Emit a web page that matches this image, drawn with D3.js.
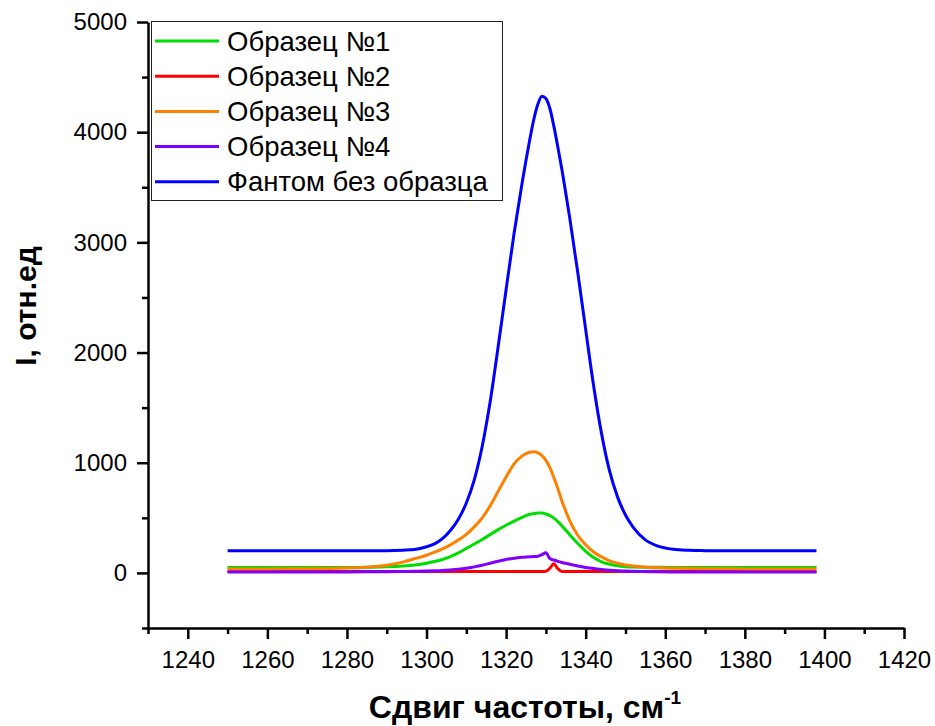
<!DOCTYPE html>
<html>
<head>
<meta charset="utf-8">
<script src="https://d3js.org/d3.v7.min.js"></script>
<style>
	body { margin: 0; background: #fff; }
	text { font-family: "Liberation Sans", Arial, sans-serif; fill: #000; }
</style>
</head>
<body>
<script>
// raman shift, cm-1
var shifts = [1250, 1260, 1270, 1280, 1285, 1290, 1294, 1297, 1300, 1302,
	1304, 1306, 1308, 1310, 1312, 1314, 1316, 1318, 1320, 1322,
	1324, 1325, 1326, 1327, 1328, 1329, 1330, 1331, 1332, 1333,
	1334, 1335, 1336, 1338, 1340, 1342, 1344, 1346, 1348, 1350,
	1352, 1355, 1358, 1362, 1366, 1370, 1375, 1380, 1390, 1398];

// intensities
var sample1 = [50, 50, 50, 50, 52, 56, 63, 72, 88, 103,
	122, 148, 182, 222, 262, 304, 348, 393, 433, 470,
	505, 520, 532, 540, 544, 543, 535, 520, 497, 465,
	428, 388, 347, 267, 196, 140, 101, 78, 64, 57,
	54, 52, 51, 50, 50, 50, 50, 50, 50, 50];
var sample2 = [12, 12, 12, 12, 12, 12, 12, 12, 12, 12,
	12, 12, 12, 12, 12, 12, 12, 12, 12, 12,
	12, 12, 12, 12, 12, 12, 14, 42, 84, 38,
	13, 12, 12, 12, 12, 12, 12, 12, 12, 12,
	12, 12, 12, 12, 12, 12, 12, 12, 12, 12];
var sample3 = [35, 36, 38, 45, 52, 70, 98, 128, 160, 188,
	218, 255, 298, 350, 418, 500, 610, 740, 870, 990,
	1060, 1082, 1096, 1099, 1090, 1065, 1022, 955, 865, 765,
	655, 560, 472, 342, 255, 190, 145, 110, 88, 72,
	62, 52, 46, 42, 40, 38, 37, 36, 35, 35];
var sample4 = [8, 8, 8, 9, 10, 11, 13, 15, 17, 19,
	22, 27, 33, 42, 55, 70, 88, 106, 122, 134,
	142, 145, 147, 148, 151, 166, 182, 130, 117, 105,
	95, 87, 78, 63, 50, 40, 32, 25, 20, 17,
	14, 12, 10, 9, 8, 8, 8, 8, 8, 8];
var phantom = [200, 200, 200, 200, 201, 202, 206, 212, 237, 264,
	311, 385, 487, 635, 845, 1150, 1555, 2052, 2572, 3080,
	3534, 3745, 3943, 4122, 4255, 4326, 4305, 4215, 4055, 3865,
	3665, 3446, 3220, 2728, 2208, 1697, 1262, 925, 690, 526,
	412, 300, 245, 214, 205, 202, 200, 200, 200, 200];

var seriesNames = ["Образец №1", "Образец №2", "Образец №3", "Образец №4", "Фантом без образца"];
var seriesValues = [sample1, sample2, sample3, sample4, phantom];
var lineColors = ["#00dd00", "#ff0000", "#ff8000", "#8000ff", "#0000ff"];

// tick labels
var xTicks = [1240, 1260, 1280, 1300, 1320, 1340, 1360, 1380, 1400, 1420];
var xMinor = [1230, 1250, 1270, 1290, 1310, 1330, 1350, 1370, 1390, 1410];
var yTicks = [0, 1000, 2000, 3000, 4000, 5000];
var yMinor = [-500, 500, 1500, 2500, 3500, 4500];

window.onload = function(){
	var w = 935, h = 726;

	var svg = d3.select("body")
		.append("svg")
		.attr("width", w)
		.attr("height", h);

	// scales
	var x = d3.scaleLinear().domain([1230, 1420]).range([148, 904]);
	var y = d3.scaleLinear().domain([-500, 5000]).range([628, 22]);

	// curves, drawn in legend order
	var line = d3.line()
		.x(function(d){ return x(d[0]); })
		.y(function(d){ return y(d[1]); })
		.curve(d3.curveMonotoneX);

	svg.selectAll(".curve")
		.data(seriesValues)
		.enter()
		.append("path")
		.attr("class", "curve")
		.attr("d", function(vals){
			return line(shifts.map(function(s, i){ return [s, vals[i]]; }));
		})
		.style("fill", "none")
		.style("stroke", function(d, i){ return lineColors[i]; })
		.style("stroke-width", 3)
		.style("stroke-linejoin", "round");

	// x axis
	svg.append("g")
		.attr("class", "xAxis")
		.attr("transform", "translate(0,628)")
		.call(d3.axisBottom(x).tickValues(xTicks).tickFormat(d3.format("d")).tickSize(11).tickPadding(12).tickSizeOuter(0));
	svg.append("g")
		.attr("transform", "translate(0,628)")
		.call(d3.axisBottom(x).tickValues(xMinor).tickFormat("").tickSize(6).tickSizeOuter(0))
		.select(".domain").remove();

	// y axis
	svg.append("g")
		.attr("class", "yAxis")
		.attr("transform", "translate(148,0)")
		.call(d3.axisLeft(y).tickValues(yTicks).tickFormat(d3.format("d")).tickSize(11).tickPadding(10).tickSizeOuter(0));
	svg.append("g")
		.attr("transform", "translate(148,0)")
		.call(d3.axisLeft(y).tickValues(yMinor).tickFormat("").tickSize(6).tickSizeOuter(0))
		.select(".domain").remove();

	svg.selectAll(".domain, .tick line")
		.style("stroke", "#000")
		.style("stroke-width", 2.5);
	svg.selectAll(".tick text")
		.style("font-size", "24px")
		.style("font-family", "'Liberation Sans', Arial, sans-serif");

	// axis titles
	var xTitle = svg.append("text")
		.attr("x", 525)
		.attr("y", 718)
		.attr("text-anchor", "middle")
		.style("font-size", "32px")
		.style("font-weight", "bold");
	xTitle.append("tspan").text("Сдвиг частоты, см");
	xTitle.append("tspan")
		.attr("dy", -14)
		.style("font-size", "19px")
		.text("-1");

	svg.append("text")
		.attr("transform", "translate(36,306) rotate(-90)")
		.attr("text-anchor", "middle")
		.style("font-size", "30px")
		.style("font-weight", "bold")
		.text("I, отн.ед");

	// legend
	var legend = svg.append("g").attr("class", "legend");
	legend.append("rect")
		.attr("x", 151.5)
		.attr("y", 21.5)
		.attr("width", 351)
		.attr("height", 179)
		.style("fill", "#fff")
		.style("stroke", "#222")
		.style("stroke-width", 1);

	var items = legend.selectAll(".item")
		.data(seriesNames)
		.enter()
		.append("g")
		.attr("class", "item")
		.attr("transform", function(d, i){ return "translate(0," + (41 + i * 35.2) + ")"; });
	items.append("line")
		.attr("x1", 155)
		.attr("x2", 219)
		.style("stroke", function(d, i){ return lineColors[i]; })
		.style("stroke-width", 3);
	items.append("text")
		.attr("x", 227)
		.attr("dy", "0.35em")
		.style("font-size", "27.5px")
		.text(function(d){ return d; });
};
</script>
</body>
</html>
